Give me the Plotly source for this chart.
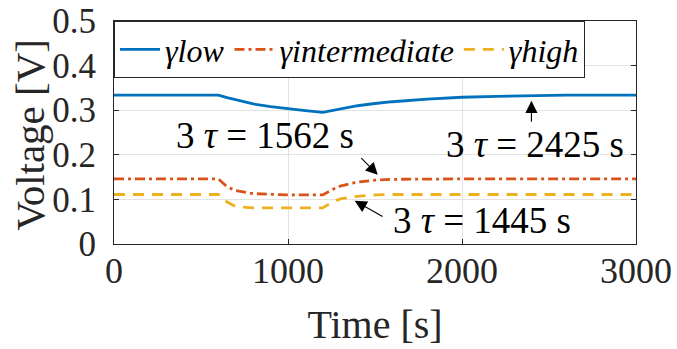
import plotly.graph_objects as go

# values
time_s = [0, 600, 650, 700, 800, 900, 1000, 1100, 1200, 1250, 1300, 1400,
          1500, 1600, 1800, 2000, 2200, 2400, 2600, 3000]
v_low = [0.334, 0.334, 0.328, 0.323, 0.314, 0.308, 0.303, 0.299, 0.295, 0.299,
         0.303, 0.310, 0.315, 0.319, 0.325, 0.329, 0.331, 0.333, 0.334, 0.334]
v_intermediate = [0.146, 0.146, 0.128, 0.120, 0.113, 0.111, 0.110, 0.110, 0.110,
                  0.121, 0.130, 0.139, 0.143, 0.145, 0.146, 0.146, 0.146, 0.146,
                  0.146, 0.146]
v_high = [0.111, 0.111, 0.094, 0.084, 0.081, 0.081, 0.081, 0.081, 0.081, 0.093,
          0.101, 0.107, 0.110, 0.111, 0.111, 0.111, 0.111, 0.111, 0.111, 0.111]

# annotations: text, text position, arrow tail, arrow head
notes = [
    ('3 <i>τ</i> = 1562 s', (869, 0.243), (1413, 0.196), (1516, 0.155)),
    ('3 <i>τ</i> = 2425 s', (2418, 0.224), (2399, 0.271), (2399, 0.321)),
    ('3 <i>τ</i> = 1445 s', (2113, 0.052), (1552, 0.060), (1383, 0.097)),
]

serif = 'Liberation Serif, Times New Roman, serif'
axis_col = '#262626'

fig = go.Figure()
fig.add_trace(go.Scatter(x=time_s, y=v_low, mode='lines', name='<i>γlow</i>',
                         line=dict(color='#0072BD', width=2.8)))
fig.add_trace(go.Scatter(x=time_s, y=v_intermediate, mode='lines',
                         name='<i>γintermediate</i>',
                         line=dict(color='#D95319', width=2.8, dash='10px,4px,3px,4px')))
fig.add_trace(go.Scatter(x=time_s, y=v_high, mode='lines', name='<i>γhigh</i>',
                         line=dict(color='#EDB120', width=2.8, dash='11px,8px')))

for text, (tx, ty), (ax, ay), (hx, hy) in notes:
    fig.add_annotation(x=hx, y=hy, ax=ax, ay=ay, axref='x', ayref='y', text='',
                       showarrow=True, arrowhead=2, arrowsize=2.2, arrowwidth=1.1,
                       arrowcolor='black')
    fig.add_annotation(x=tx, y=ty, text=text, showarrow=False,
                       font=dict(family=serif, size=37, color='black'))

# y axis title as a rotated annotation so it can sit where the reference has it
fig.add_annotation(x=-0.161, y=0.49, xref='paper', yref='paper', text='Voltage [V]',
                   textangle=-90, showarrow=False, xanchor='center', yanchor='middle',
                   font=dict(family=serif, size=41, color=axis_col))

fig.update_layout(
    width=677, height=349,
    margin=dict(l=114, r=41, t=21, b=105),
    paper_bgcolor='white', plot_bgcolor='white',
    font=dict(family=serif, color=axis_col),
    legend=dict(orientation='h', x=0, y=1, xanchor='left', yanchor='top',
                bgcolor='white', bordercolor=axis_col, borderwidth=1,
                font=dict(family=serif, size=32, color='black'),
                itemwidth=40, tracegroupgap=0),
    xaxis=dict(range=[0, 3000], tickvals=[0, 1000, 2000, 3000],
               showgrid=True, gridcolor='#e3e3e3', zeroline=False,
               showline=True, linecolor=axis_col, mirror='ticks',
               ticks='inside', ticklen=5, tickcolor=axis_col,
               tickfont=dict(size=36), automargin=False, ticklabelstandoff=-5,
               title=dict(text='Time [s]', font=dict(size=40), standoff=19)),
    yaxis=dict(range=[0, 0.5], tickvals=[0, 0.1, 0.2, 0.3, 0.4, 0.5],
               ticktext=['0', '0.1', '0.2', '0.3', '0.4', '0.5'],
               showgrid=True, gridcolor='#e3e3e3', zeroline=False,
               showline=True, linecolor=axis_col, mirror='ticks',
               ticks='inside', ticklen=5, tickcolor=axis_col,
               tickfont=dict(size=35), automargin=False, ticklabelstandoff=10),
)

# page has a default 8px body margin; drop it so the figure fills the window
fig.write_html('out.html', config={'displayModeBar': False},
               post_script="document.body.style.margin='0';")
